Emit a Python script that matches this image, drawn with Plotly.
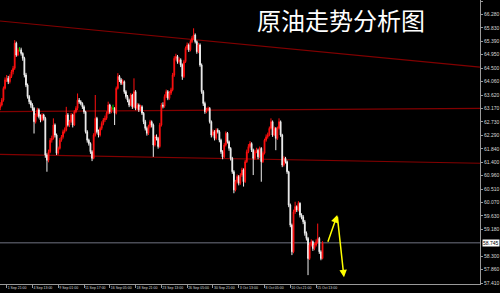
import plotly.graph_objects as go

# H4 crude-oil candles, oldest first
opens = [
    63.20, 63.29, 63.45, 63.84, 64.12, 64.17, 64.06, 64.23, 64.39, 64.50,
    65.33, 64.94, 65.11, 65.11, 64.99, 64.83, 64.28, 63.95, 63.57, 63.40,
    63.29, 63.18, 62.74, 62.96, 63.13, 62.91, 62.80, 62.96, 62.85, 61.64,
    61.47, 61.75, 62.13, 62.19, 62.63, 62.30, 61.70, 61.86, 62.13, 62.24,
    62.41, 62.46, 62.96, 62.63, 62.74, 62.96, 62.63, 63.07, 63.18, 63.45,
    63.40, 63.34, 63.23, 63.07, 62.41, 62.13, 62.02, 61.75, 61.53, 62.30,
    62.85, 62.41, 62.30, 62.52, 62.68, 62.80, 62.85, 63.02, 63.29, 63.07,
    63.18, 63.18, 63.02, 63.84, 64.23, 64.12, 64.01, 64.06, 63.73, 63.57,
    63.45, 63.29, 63.62, 63.23, 63.73, 63.18, 63.29, 63.13, 63.23, 63.02,
    62.74, 62.52, 62.36, 62.58, 62.74, 62.63, 61.97, 62.24, 62.19, 61.92,
    62.63, 63.29, 63.25, 63.57, 63.73, 63.51, 63.68, 63.79, 64.28, 64.83,
    64.89, 64.72, 64.78, 64.61, 64.23, 64.72, 65.16, 65.27, 65.11, 65.38,
    65.49, 65.60, 65.38, 65.05, 65.27, 64.61, 63.73, 63.34, 63.07, 63.13,
    63.18, 62.74, 62.30, 62.41, 62.19, 62.46, 62.41, 62.13, 61.75, 61.58,
    61.97, 62.36, 62.08, 61.86, 61.53, 61.09, 60.49, 60.76, 60.93, 60.71,
    60.98, 61.15, 60.76, 61.42, 61.75, 61.92, 62.02, 61.80, 61.53, 61.75,
    61.80, 61.58, 61.86, 61.42, 61.70, 62.13, 62.24, 62.30, 62.52, 62.74,
    62.30, 62.52, 62.19, 62.52, 62.74, 62.30, 61.31, 61.53, 61.42, 61.09,
    59.99, 59.33, 58.45, 59.77, 59.94, 59.83, 60.05, 59.66, 59.60, 59.44,
    59.06, 58.89, 58.23, 58.67, 58.78, 58.56, 58.67, 58.78, 58.89, 58.45,
    58.23,
]
highs = [
    63.38, 63.52, 63.90, 64.20, 64.28, 64.25, 64.30, 64.45, 64.58, 65.43,
    65.38, 65.18, 65.20, 65.18, 65.03, 64.88, 64.35, 64.00, 63.62, 63.45,
    63.35, 63.22, 63.02, 63.20, 63.18, 62.98, 63.02, 63.00, 62.90, 61.70,
    61.82, 62.20, 62.28, 62.85, 62.68, 62.35, 61.92, 62.20, 62.30, 62.48,
    62.55, 63.23, 63.02, 62.80, 63.03, 63.00, 63.12, 63.25, 63.67, 63.52,
    63.45, 63.38, 63.28, 63.10, 62.46, 62.18, 62.06, 61.80, 62.36, 63.62,
    62.90, 62.48, 62.58, 62.75, 62.86, 62.94, 63.08, 63.40, 63.33, 63.24,
    63.30, 63.22, 63.90, 64.34, 64.28, 64.18, 64.14, 64.10, 63.78, 63.62,
    63.50, 63.68, 63.66, 64.17, 63.78, 63.36, 63.34, 63.30, 63.28, 63.06,
    62.80, 62.58, 62.64, 62.80, 62.78, 62.68, 62.30, 62.32, 62.24, 62.70,
    63.36, 63.38, 63.64, 63.80, 63.78, 63.75, 63.86, 64.35, 64.90, 64.98,
    64.94, 64.86, 64.83, 64.66, 64.78, 65.22, 65.35, 65.32, 65.44, 65.56,
    65.82, 65.65, 65.42, 65.34, 65.32, 64.66, 63.78, 63.40, 63.20, 63.24,
    63.22, 62.78, 62.48, 62.46, 62.52, 62.52, 62.46, 62.18, 61.80, 62.04,
    62.42, 62.40, 62.12, 61.90, 61.58, 61.14, 60.82, 61.00, 60.98, 61.04,
    61.22, 61.20, 61.48, 61.82, 62.00, 62.10, 62.06, 61.85, 61.82, 61.88,
    61.85, 61.92, 61.90, 61.76, 62.18, 62.32, 62.38, 62.58, 62.85, 62.78,
    62.58, 62.56, 62.58, 62.85, 62.78, 62.34, 61.60, 61.58, 61.46, 61.12,
    60.04, 59.38, 59.84, 60.10, 59.98, 60.12, 60.08, 59.72, 59.66, 59.50,
    59.12, 58.94, 58.74, 58.86, 58.82, 58.74, 58.86, 59.38, 58.94, 58.50,
    58.80,
]
lows = [
    63.12, 63.24, 63.40, 63.80, 64.05, 63.98, 64.00, 64.18, 64.30, 64.45,
    64.88, 64.90, 65.05, 64.92, 64.75, 64.20, 63.88, 63.50, 63.32, 63.20,
    63.10, 62.35, 62.68, 62.90, 62.85, 62.72, 62.75, 62.78, 61.55, 61.09,
    61.40, 61.70, 62.05, 62.15, 62.22, 61.64, 61.65, 61.82, 62.08, 62.18,
    62.35, 62.42, 62.58, 62.56, 62.70, 62.55, 62.60, 63.02, 63.12, 63.33,
    63.28, 63.16, 63.00, 62.35, 62.05, 61.95, 61.68, 61.44, 61.50, 62.25,
    62.35, 62.22, 62.25, 62.46, 62.62, 62.73, 62.80, 62.98, 63.00, 63.02,
    63.12, 62.63, 62.98, 63.80, 64.05, 63.95, 63.96, 63.66, 63.50, 63.38,
    63.22, 63.25, 63.16, 63.18, 63.12, 63.12, 63.06, 63.08, 62.96, 62.66,
    62.45, 62.28, 62.30, 62.52, 62.55, 61.58, 61.92, 62.12, 61.85, 61.88,
    62.58, 63.18, 63.20, 63.52, 63.45, 63.46, 63.62, 63.74, 64.22, 64.76,
    64.65, 64.66, 64.54, 64.12, 64.18, 64.68, 65.10, 65.04, 65.06, 65.33,
    65.44, 65.32, 64.98, 65.00, 64.55, 63.66, 63.26, 63.00, 63.02, 63.08,
    62.68, 62.22, 62.25, 62.12, 62.14, 62.35, 62.06, 61.68, 61.50, 61.54,
    61.92, 62.02, 61.78, 61.46, 61.02, 60.38, 60.44, 60.70, 60.64, 60.66,
    60.92, 60.60, 60.72, 61.38, 61.70, 61.86, 61.74, 60.98, 61.48, 61.70,
    61.50, 61.54, 60.76, 61.38, 61.66, 62.08, 62.18, 62.26, 62.48, 62.24,
    62.26, 61.80, 62.14, 62.48, 62.24, 61.24, 61.26, 61.36, 61.02, 59.92,
    59.26, 58.34, 58.40, 59.70, 59.76, 59.78, 59.58, 59.52, 59.36, 58.98,
    58.82, 57.68, 58.18, 58.62, 58.48, 58.50, 58.62, 58.72, 58.38, 58.17,
    58.20,
]
closes = [
    63.29, 63.45, 63.84, 64.12, 64.17, 64.06, 64.23, 64.39, 64.50, 65.33,
    64.94, 65.11, 65.11, 64.99, 64.83, 64.28, 63.95, 63.57, 63.40, 63.29,
    63.18, 62.74, 62.96, 63.13, 62.91, 62.80, 62.96, 62.85, 61.64, 61.47,
    61.75, 62.13, 62.19, 62.63, 62.30, 61.70, 61.86, 62.13, 62.24, 62.41,
    62.46, 62.96, 62.63, 62.74, 62.96, 62.63, 63.07, 63.18, 63.45, 63.40,
    63.34, 63.23, 63.07, 62.41, 62.13, 62.02, 61.75, 61.53, 62.30, 62.85,
    62.41, 62.30, 62.52, 62.68, 62.80, 62.85, 63.02, 63.29, 63.07, 63.18,
    63.18, 63.02, 63.84, 64.23, 64.12, 64.01, 64.06, 63.73, 63.57, 63.45,
    63.29, 63.62, 63.23, 63.73, 63.18, 63.29, 63.13, 63.23, 63.02, 62.74,
    62.52, 62.36, 62.58, 62.74, 62.63, 61.97, 62.24, 62.19, 61.92, 62.63,
    63.29, 63.25, 63.57, 63.73, 63.51, 63.68, 63.79, 64.28, 64.83, 64.89,
    64.72, 64.78, 64.61, 64.23, 64.72, 65.16, 65.27, 65.11, 65.38, 65.49,
    65.60, 65.38, 65.05, 65.27, 64.61, 63.73, 63.34, 63.07, 63.13, 63.18,
    62.74, 62.30, 62.41, 62.19, 62.46, 62.41, 62.13, 61.75, 61.58, 61.97,
    62.36, 62.08, 61.86, 61.53, 61.09, 60.49, 60.76, 60.93, 60.71, 60.98,
    61.15, 60.76, 61.42, 61.75, 61.92, 62.02, 61.80, 61.53, 61.75, 61.80,
    61.58, 61.86, 61.42, 61.70, 62.13, 62.24, 62.30, 62.52, 62.74, 62.30,
    62.52, 62.19, 62.52, 62.74, 62.30, 61.31, 61.53, 61.42, 61.09, 59.99,
    59.33, 58.45, 59.77, 59.94, 59.83, 60.05, 59.66, 59.60, 59.44, 59.06,
    58.89, 58.23, 58.67, 58.78, 58.56, 58.67, 58.78, 58.89, 58.45, 58.23,
    58.745,
]

# Time-axis labels and the bar each one marks
date_labels = [
    "1 Sep 21:00", "4 Sep 13:00", "9 Sep 01:00", "11 Sep 17:00",
    "16 Sep 05:00", "18 Sep 21:00", "23 Sep 13:00", "26 Sep 05:00",
    "30 Sep 21:00", "3 Oct 13:00", "8 Oct 05:00", "10 Oct 21:00",
    "15 Oct 13:00",
]
label_bars = [4, 20, 36, 52, 68, 84, 100, 116, 132, 148, 164, 180, 196]

# Price scale labels
price_ticks = [66.72, 66.28, 65.83, 65.39, 64.95, 64.50, 64.06, 63.62, 63.17,
               62.73, 62.29, 61.84, 61.40, 60.96, 60.51, 60.07, 59.63, 59.18,
               58.30, 57.86, 57.41]
last_price = 58.745

# Drawn trend lines: price at left and right edges of the chart
trend_left = [66.06, 63.07, 61.66]
trend_right = [64.54, 63.18, 61.37]

# Forecast path (bar position, price)
path_bars = [203.0, 209.1, 213.3]
path_prices = [58.73, 59.66, 57.61]

title_text = "原油走势分析图"

X_RANGE = [-0.12, 297.7]
Y_RANGE = [57.387, 66.753]

bars = list(range(len(closes)))
doji = [i for i in bars if opens[i] == closes[i]]
normal = [i for i in bars if opens[i] != closes[i]]

def pick(seq, idx):
    return [seq[i] for i in idx]

fig = go.Figure()
fig.add_trace(go.Candlestick(
    x=normal, open=pick(opens, normal), high=pick(highs, normal),
    low=pick(lows, normal), close=pick(closes, normal),
    increasing=dict(line=dict(color="#ff1010", width=1), fillcolor="#ff1010"),
    decreasing=dict(line=dict(color="#f0f0f0", width=1), fillcolor="#f0f0f0"),
    whiskerwidth=0, hoverinfo="skip",
))
fig.add_trace(go.Candlestick(
    x=doji, open=pick(opens, doji), high=pick(highs, doji),
    low=pick(lows, doji), close=pick(closes, doji),
    increasing=dict(line=dict(color="#00d000", width=1), fillcolor="#00d000"),
    decreasing=dict(line=dict(color="#00d000", width=1), fillcolor="#00d000"),
    whiskerwidth=0, hoverinfo="skip",
))

shapes = []
for left, right in zip(trend_left, trend_right):
    shapes.append(dict(type="line", xref="x", yref="y",
                       x0=X_RANGE[0], x1=X_RANGE[1], y0=left, y1=right,
                       line=dict(color="#820000", width=1.2), layer="below"))
shapes.append(dict(type="line", xref="paper", yref="y", x0=0, x1=1,
                   y0=last_price, y1=last_price,
                   line=dict(color="#4a4c56", width=1.5), layer="below"))

annotations = [
    dict(xref="paper", yref="paper", x=0.711, y=1.0, text=title_text,
         showarrow=False, xanchor="center", yanchor="top",
         font=dict(family="Noto Sans CJK SC", size=24, color="#ffffff")),
    dict(xref="paper", yref="y", x=1, y=last_price, text=f"{last_price:.3f}",
         showarrow=False, xanchor="left", yanchor="middle", xshift=2,
         bgcolor="#ffffff", borderpad=0,
         font=dict(family="Liberation Sans", size=5, color="#000000")),
]
for k in range(len(path_bars) - 1):
    annotations.append(dict(
        xref="x", yref="y", axref="x", ayref="y",
        x=path_bars[k + 1], y=path_prices[k + 1],
        ax=path_bars[k], ay=path_prices[k],
        text="", showarrow=True, arrowhead=2, arrowsize=1,
        arrowwidth=1.5, arrowcolor="#ffff00", standoff=0, startstandoff=0,
    ))

fig.update_layout(
    width=500, height=293,
    margin=dict(l=0, r=16, t=0, b=9),
    paper_bgcolor="#000000", plot_bgcolor="#000000",
    showlegend=False,
    shapes=shapes, annotations=annotations,
    xaxis=dict(
        range=X_RANGE, rangeslider=dict(visible=False),
        showgrid=False, zeroline=False,
        tickmode="array", tickvals=label_bars, ticktext=date_labels,
        tickangle=0,
        ticks="outside", ticklen=3, tickcolor="#9a9a9a", tickwidth=1,
        ticklabelposition="outside right",
        tickfont=dict(family="Liberation Sans", size=3.5, color="#d8d8d8"),
        showline=True, linecolor="#9a9a9a", linewidth=1,
    ),
    yaxis=dict(
        range=Y_RANGE, side="right",
        showgrid=False, zeroline=False,
        tickmode="array", tickvals=price_ticks,
        ticktext=[f"{v:.3f}" for v in price_ticks],
        ticks="outside", ticklen=2, tickcolor="#9a9a9a", tickwidth=1,
        tickfont=dict(family="Liberation Sans", size=5, color="#d8d8d8"),
        showline=True, linecolor="#9a9a9a", linewidth=1,
    ),
)

fig.write_html("out.html")
